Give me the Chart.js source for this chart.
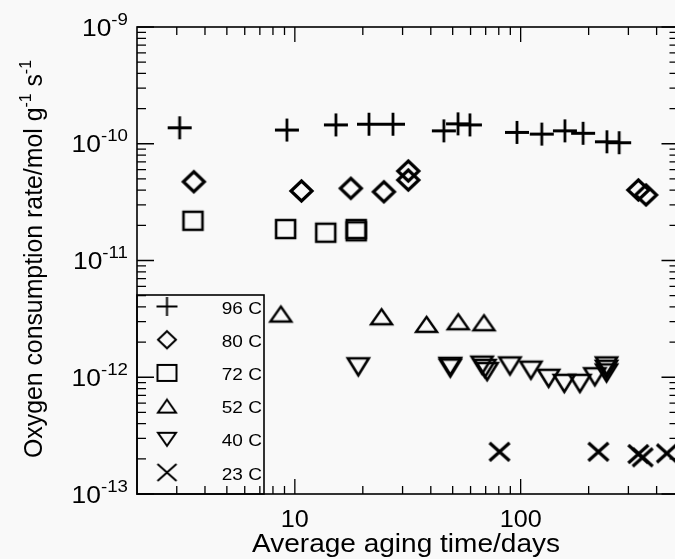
<!DOCTYPE html>
<html>
<head>
<meta charset="utf-8">
<script src="https://cdn.jsdelivr.net/npm/chart.js@4.4.1/dist/chart.umd.min.js"></script>
<style>
  html, body { margin: 0; padding: 0; background: #f9f9f9; overflow: hidden; }
  #wrap { width: 680px; height: 559px; }
</style>
</head>
<body>
<div id="wrap"><canvas id="chart" width="680" height="559"></canvas></div>
<script>
// values (days, mol g-1 s-1)
const days96 = [3.09, 9.22, 15.2, 21.3, 27.2, 45.7, 52.8, 59.6, 96.3, 124, 157, 189, 241, 273];
const rate96 = [1.37e-10, 1.31e-10, 1.45e-10, 1.47e-10, 1.47e-10, 1.29e-10, 1.48e-10, 1.45e-10, 1.25e-10, 1.21e-10, 1.29e-10, 1.23e-10, 1.04e-10, 1.02e-10];

const days80 = [3.57, 10.7, 17.7, 24.8, 31.8, 31.8, 332, 359];
const rate80 = [4.73e-11, 3.94e-11, 4.15e-11, 3.88e-11, 5.84e-11, 4.89e-11, 4.02e-11, 3.64e-11];

const days72 = [3.54, 9.10, 13.7, 18.7, 18.7];
const rate72 = [2.19e-11, 1.86e-11, 1.73e-11, 1.86e-11, 1.78e-11];

const days52 = [8.67, 24.2, 38.3, 52.9, 68.8];
const rate52 = [3.48e-12, 3.30e-12, 2.84e-12, 2.99e-12, 2.93e-12];

const days40 = [19.1, 48.8, 48.8, 67.5, 69.5, 71, 89.7, 111, 133, 156, 183, 213, 240, 240, 240];
const rate40 = [1.23e-12, 1.24e-12, 1.20e-12, 1.27e-12, 1.19e-12, 1.12e-12, 1.25e-12, 1.15e-12, 9.8e-13, 8.87e-13, 8.87e-13, 1.01e-12, 1.25e-12, 1.17e-12, 1.09e-12];

const days23 = [80.6, 221, 332, 347, 444];
const rate23 = [2.30e-13, 2.30e-13, 2.20e-13, 2.06e-13, 2.23e-13];

const seriesLabels = ['96 C', '80 C', '72 C', '52 C', '40 C', '23 C'];
const xTickLabels = ['10', '100'];
const yTickExps = ['-13', '-12', '-11', '-10', '-9'];

const INK = '#000';

// draws one outline marker into a small canvas, used as pointStyle
function marker(shape, w, h, lw) {
  const c = document.createElement('canvas');
  const pad = Math.ceil(lw * 1.5);
  c.width = Math.ceil(w + 2 * pad);
  c.height = Math.ceil(h + 2 * pad);
  const g = c.getContext('2d');
  g.strokeStyle = INK;
  g.lineWidth = lw;
  g.translate(c.width / 2, c.height / 2);
  const a = w / 2, b = h / 2;
  g.beginPath();
  if (shape === 'plus') {
    g.moveTo(-a, 0); g.lineTo(a, 0); g.moveTo(0, -b); g.lineTo(0, b);
  } else if (shape === 'diamond') {
    g.moveTo(0, -b); g.lineTo(a, 0); g.lineTo(0, b); g.lineTo(-a, 0); g.closePath();
  } else if (shape === 'square') {
    g.rect(-a, -b, w, h);
  } else if (shape === 'up') {
    g.moveTo(0, -b); g.lineTo(a, b); g.lineTo(-a, b); g.closePath();
  } else if (shape === 'down') {
    g.moveTo(-a, -b); g.lineTo(a, -b); g.lineTo(0, b); g.closePath();
  } else if (shape === 'cross') {
    g.moveTo(-a, -b); g.lineTo(a, b); g.moveTo(a, -b); g.lineTo(-a, b);
  }
  g.stroke();
  return c;
}

const pointMarks = [
  marker('plus', 24, 23, 2.8),
  marker('diamond', 21, 20, 3.2),
  marker('square', 19, 18, 2.6),
  marker('up', 21, 15, 2.4),
  marker('down', 21, 17, 2.6),
  marker('cross', 20, 18, 3.2)
];
const legendMarks = [
  marker('plus', 21, 19, 2),
  marker('diamond', 18, 17, 2),
  marker('square', 19, 16, 2),
  marker('up', 18, 13, 2),
  marker('down', 18, 13, 2),
  marker('cross', 19, 17, 2)
];

function pts(xs, ys) {
  return xs.map((x, i) => ({ x: x, y: ys[i] }));
}

const allDays = [days96, days80, days72, days52, days40, days23];
const allRates = [rate96, rate80, rate72, rate52, rate40, rate23];

const datasets = seriesLabels.map((label, i) => ({
  label: label,
  data: pts(allDays[i], allRates[i]),
  pointStyle: pointMarks[i],
  pointRadius: 10,
  pointHoverRadius: 10,
  showLine: false
}));

// horizontally stretched text, the scan is a bit wide
function sText(ctx, str, x, y, sx, align) {
  ctx.save();
  ctx.translate(x, y);
  ctx.scale(sx, 1);
  ctx.textAlign = align;
  ctx.fillText(str, 0, 0);
  ctx.restore();
}

const FONT = '"Liberation Sans", Arial, sans-serif';

const frame = {
  id: 'frame',
  afterDraw(chart) {
    const ctx = chart.ctx;
    const a = chart.chartArea;
    const xs = chart.scales.x, ys = chart.scales.y;
    ctx.save();
    ctx.strokeStyle = INK;
    ctx.fillStyle = INK;

    // box
    ctx.lineWidth = 1.6;
    ctx.strokeRect(a.left, a.top, a.right - a.left, a.bottom - a.top);

    // inward ticks
    ctx.lineWidth = 1.3;
    ctx.beginPath();
    for (let e = 0; e <= 2; e++) {
      for (let m = 1; m <= 9; m++) {
        const v = m * Math.pow(10, e);
        if (v <= 2 || v >= 500) continue;
        const px = xs.getPixelForValue(v);
        const len = m === 1 ? 15 : 8;
        ctx.moveTo(px, a.bottom); ctx.lineTo(px, a.bottom - len);
        ctx.moveTo(px, a.top); ctx.lineTo(px, a.top + len);
      }
    }
    for (let e = -13; e <= -9; e++) {
      for (let m = 1; m <= 9; m++) {
        if (e === -9 && m > 1) break;
        const py = ys.getPixelForValue(m * Math.pow(10, e));
        const len = m === 1 ? 17 : 9;
        ctx.moveTo(a.left, py); ctx.lineTo(a.left + len, py);
        ctx.moveTo(a.right, py); ctx.lineTo(a.right - len, py);
      }
    }
    ctx.stroke();

    // x tick labels
    ctx.font = '24px ' + FONT;
    ctx.textBaseline = 'alphabetic';
    xTickLabels.forEach(t => {
      sText(ctx, t, xs.getPixelForValue(Number(t)), 527, 1.05, 'center');
    });

    // y tick labels 10^n
    const sx = 1.1;
    yTickExps.forEach(ex => {
      const py = ys.getPixelForValue(Math.pow(10, Number(ex)));
      ctx.font = '24px ' + FONT;
      const w1 = ctx.measureText('10').width * sx;
      ctx.font = '17px ' + FONT;
      const w2 = ctx.measureText(ex).width * sx;
      const x0 = 128 - w1 - w2;
      ctx.font = '24px ' + FONT;
      sText(ctx, '10', x0, py + 8.5, sx, 'left');
      ctx.font = '17px ' + FONT;
      sText(ctx, ex, x0 + w1, py - 2.5, sx, 'left');
    });

    // x title
    ctx.font = '26px ' + FONT;
    const xt = 'Average aging time/days';
    const xw = ctx.measureText(xt).width;
    sText(ctx, xt, 406, 552, 308 / xw, 'center');

    // y title, rotated, with superscripts
    const parts = [
      ['Oxygen consumption rate/mol g', 25, 0],
      ['-1', 16, -11],
      [' s', 25, 0],
      ['-1', 16, -11]
    ];
    let total = 0;
    parts.forEach(p => { ctx.font = p[1] + 'px ' + FONT; p.push(ctx.measureText(p[0]).width); total += p[3]; });
    ctx.save();
    ctx.translate(42, 259);
    ctx.rotate(-Math.PI / 2);
    ctx.scale(398 / total, 1);
    ctx.textAlign = 'left';
    let cx = -total / 2;
    parts.forEach(p => {
      ctx.font = p[1] + 'px ' + FONT;
      ctx.fillText(p[0], cx, p[2]);
      cx += p[3];
    });
    ctx.restore();

    // legend box in the lower left corner
    const lx = a.left, ly = 295, lr = 264;
    ctx.lineWidth = 1.6;
    ctx.strokeRect(lx, ly, lr - lx, a.bottom - ly);
    ctx.font = '17px ' + FONT;
    seriesLabels.forEach((label, i) => {
      const ry = 306.5 + i * 33.2;
      const m = legendMarks[i];
      ctx.drawImage(m, 167 - m.width / 2, ry - m.height / 2);
      sText(ctx, label, 262, ry + 7, 1.12, 'right');
    });
    ctx.restore();
  }
};

new Chart(document.getElementById('chart'), {
  type: 'scatter',
  data: { datasets: datasets },
  options: {
    responsive: false,
    animation: false,
    // plot box: left 137, top 27, bottom 494, right edge just past the window
    layout: { autoPadding: false, padding: { top: 27, right: 1.5, left: 0, bottom: 0 } },
    plugins: {
      legend: { display: false },
      tooltip: { enabled: false }
    },
    scales: {
      x: {
        type: 'logarithmic',
        min: 2,
        max: 500,
        ticks: { display: false },
        grid: { display: false },
        border: { display: false },
        afterFit: s => { s.height = 65; }
      },
      y: {
        type: 'logarithmic',
        min: 1e-13,
        max: 1e-9,
        ticks: { display: false },
        grid: { display: false },
        border: { display: false },
        afterFit: s => { s.width = 137; }
      }
    }
  },
  plugins: [frame]
});
</script>
</body>
</html>
